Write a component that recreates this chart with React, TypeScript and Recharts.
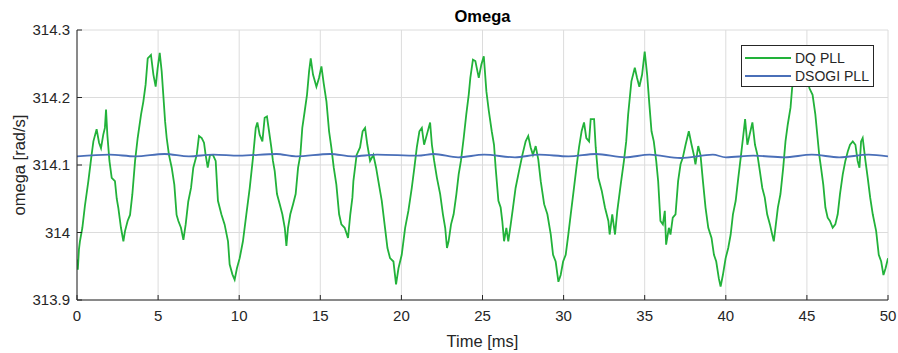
import { LineChart, Line, XAxis, YAxis, CartesianGrid, Legend, Customized } from 'recharts';

const FONT = '"Liberation Sans", Arial, Helvetica, sans-serif';
const TEXT = '#262626';

const xTicks = [0, 5, 10, 15, 20, 25, 30, 35, 40, 45, 50];
const yTicks = [313.9, 314.0, 314.1, 314.2, 314.3];

// DQ PLL omega (time in ms)
const dqTime = [
    0, 0.05, 0.12, 0.18, 0.33, 0.49, 0.7, 0.9, 1.01, 1.21, 1.36, 1.48, 1.62, 1.72, 1.79, 1.87, 2.0, 2.14, 2.34, 2.45,
    2.55, 2.71, 2.86, 2.96, 3.12, 3.27, 3.41, 3.58, 3.74, 3.95, 4.09, 4.23, 4.36, 4.56, 4.71, 4.85, 4.97, 5.1, 5.22,
    5.32, 5.43, 5.53, 5.67, 5.84, 6.0, 6.14, 6.25, 6.41, 6.56, 6.7, 6.86, 7.03, 7.17, 7.38, 7.52, 7.69, 7.83, 7.93,
    8.06, 8.2, 8.38, 8.55, 8.69, 8.9, 9.1, 9.31, 9.41, 9.58, 9.72, 9.86, 10.03, 10.23, 10.44, 10.65, 10.85, 11.02,
    11.12, 11.26, 11.43, 11.57, 11.71, 11.84, 11.98, 12.08, 12.19, 12.33, 12.5, 12.66, 12.81, 12.91, 13.01, 13.15,
    13.32, 13.48, 13.63, 13.77, 13.89, 14.04, 14.18, 14.31, 14.41, 14.55, 14.76, 14.92, 15.07, 15.21, 15.38, 15.54,
    15.68, 15.83, 15.99, 16.16, 16.3, 16.5, 16.71, 16.85, 16.98, 17.04, 17.24, 17.45, 17.61, 17.76, 17.9, 18.07,
    18.27, 18.44, 18.58, 18.79, 18.99, 19.14, 19.3, 19.51, 19.67, 19.82, 20.02, 20.23, 20.43, 20.64, 20.8, 20.95,
    21.11, 21.26, 21.4, 21.57, 21.77, 21.88, 22.02, 22.19, 22.39, 22.56, 22.7, 22.81, 22.91, 23.06, 23.22, 23.39,
    23.53, 23.67, 23.84, 24.0, 24.15, 24.25, 24.41, 24.56, 24.77, 24.93, 25.08, 25.24, 25.39, 25.57, 25.71, 25.81,
    25.98, 26.12, 26.22, 26.33, 26.47, 26.59, 26.74, 26.88, 27.04, 27.25, 27.46, 27.66, 27.82, 27.97, 28.11, 28.28,
    28.44, 28.59, 28.8, 29.0, 29.21, 29.35, 29.51, 29.68, 29.82, 29.97, 30.13, 30.29, 30.44, 30.64, 30.79, 30.95,
    31.11, 31.26, 31.4, 31.57, 31.67, 31.88, 31.98, 32.14, 32.35, 32.55, 32.76, 32.84, 33.0, 33.17, 33.31, 33.52,
    33.72, 33.86, 33.98, 34.18, 34.39, 34.53, 34.67, 34.84, 35.0, 35.15, 35.29, 35.42, 35.56, 35.71, 35.83, 35.97,
    36.12, 36.24, 36.32, 36.49, 36.59, 36.73, 36.9, 37.06, 37.21, 37.35, 37.52, 37.72, 37.89, 38.03, 38.13, 38.3,
    38.44, 38.59, 38.75, 38.92, 39.12, 39.27, 39.41, 39.57, 39.68, 39.82, 39.99, 40.15, 40.3, 40.44, 40.61, 40.77,
    40.92, 41.06, 41.19, 41.33, 41.47, 41.64, 41.8, 41.95, 42.1, 42.25, 42.4, 42.55, 42.72, 42.86, 42.96, 43.06,
    43.21, 43.37, 43.54, 43.68, 43.82, 43.99, 44.09, 44.25, 44.45, 44.65, 44.85, 45.0, 45.15, 45.35, 45.52, 45.66,
    45.76, 45.87, 46.01, 46.14, 46.28, 46.42, 46.59, 46.75, 46.9, 47.04, 47.21, 47.37, 47.52, 47.66, 47.83, 47.99,
    48.13, 48.24, 48.34, 48.44, 48.61, 48.75, 48.9, 49.06, 49.27, 49.43, 49.58, 49.72, 49.85, 50.0,
];
const dqOmega = [
    313.96, 313.945, 313.975, 313.987, 314.007, 314.04, 314.076, 314.115, 314.135, 314.153, 314.133, 314.125, 314.145,
    314.155, 314.182, 314.145, 314.106, 314.081, 314.076, 314.05, 314.036, 314.007, 313.987, 314.002, 314.017, 314.026,
    314.056, 314.106, 314.14, 314.175, 314.194, 314.219, 314.258, 314.263, 314.234, 314.216, 314.243, 314.266, 314.239,
    314.204, 314.165, 314.14, 314.115, 314.096, 314.071, 314.026, 314.017, 314.007, 313.989, 314.012, 314.046, 314.066,
    314.096, 314.115, 314.143, 314.14, 314.133, 314.115, 314.096, 314.115, 314.115, 314.106, 314.047, 314.027, 314.012,
    313.987, 313.953, 313.938, 313.93, 313.947, 313.962, 313.987, 314.027, 314.066, 314.111, 314.155, 314.163, 314.145,
    314.135, 314.17, 314.172, 314.15, 314.126, 314.106, 314.091, 314.057, 314.042, 314.027, 314.007, 313.98, 314.007,
    314.027, 314.042, 314.057, 314.096, 314.115, 314.155, 314.18, 314.204, 314.239, 314.258, 314.234, 314.216, 314.229,
    314.246, 314.221, 314.194, 314.15, 314.126, 314.096, 314.071, 314.027, 314.012, 314.007, 313.992, 314.027, 314.052,
    314.076, 314.115, 314.126, 314.15, 314.155, 314.13, 314.106, 314.115, 314.096, 314.076, 314.047, 314.007, 313.977,
    313.962, 313.957, 313.923, 313.947, 313.967, 314.007, 314.032, 314.066, 314.096, 314.126, 314.15, 314.155, 314.13,
    314.145, 314.163, 314.13, 314.106, 314.081, 314.057, 314.027, 314.007, 313.977, 313.987, 314.012, 314.027, 314.057,
    314.086, 314.106, 314.14, 314.175, 314.204, 314.229, 314.256, 314.254, 314.229, 314.249, 314.261, 314.209, 314.18,
    314.15, 314.13, 314.096, 314.047, 314.037, 314.017, 313.987, 314.007, 313.987, 314.012, 314.037, 314.066, 314.091,
    314.115, 314.135, 314.143, 314.126, 314.115, 314.128, 314.108, 314.076, 314.042, 314.027, 313.997, 313.967, 313.957,
    313.927, 313.937, 313.957, 313.967, 313.997, 314.027, 314.066, 314.096, 314.126, 314.15, 314.163, 314.14, 314.135,
    314.168, 314.168, 314.126, 314.081, 314.062, 314.037, 314.017, 313.997, 314.027, 313.997, 314.032, 314.071, 314.106,
    314.135, 314.175, 314.224, 314.244, 314.229, 314.216, 314.234, 314.268, 314.234, 314.189, 314.15, 314.135, 314.106,
    314.076, 314.017, 314.012, 314.032, 313.982, 314.007, 313.997, 314.022, 314.027, 314.076, 314.101, 314.111, 314.13,
    314.15, 314.13, 314.115, 314.101, 314.128, 314.115, 314.076, 314.037, 314.007, 313.992, 313.967, 313.957, 313.932,
    313.92, 313.937, 313.962, 313.977, 313.997, 314.027, 314.047, 314.081, 314.111, 314.14, 314.168, 314.13, 314.145,
    314.163, 314.13, 314.115, 314.091, 314.066, 314.052, 314.027, 314.012, 313.997, 313.987, 314.007, 314.037, 314.057,
    314.096, 314.135, 314.16, 314.185, 314.214, 314.24, 314.255, 314.235, 314.25, 314.24, 314.214, 314.204, 314.175,
    314.14, 314.115, 314.096, 314.071, 314.037, 314.022, 314.017, 314.007, 314.012, 314.027, 314.057, 314.086, 314.106,
    314.12, 314.13, 314.135, 314.13, 314.106, 314.096, 314.135, 314.14, 314.106, 314.081, 314.052, 314.027, 314.002,
    313.967, 313.957, 313.937, 313.947, 313.962,
];

// DSOGI PLL omega, almost flat
const dsogiTime = [
    0, 2.0, 3.6, 5.4, 6.9, 8.4, 10.0, 12.3, 13.5, 15.6, 17.0, 18.5, 21.0, 22.0, 23.5, 25.1, 27.0, 28.5, 30.3, 32.0,
    33.8, 35.3, 37.2, 39.2, 40.0, 41.7, 43.6, 45.3, 47.0, 48.8, 50,
];
const dsogiOmega = [
    314.1128, 314.1153, 314.1128, 314.1163, 314.1128, 314.1153, 314.1138, 314.1163, 314.1128, 314.1163, 314.1128,
    314.1153, 314.1138, 314.1163, 314.1114, 314.1153, 314.1114, 314.1153, 314.1128, 314.1163, 314.1114, 314.1153,
    314.1104, 314.1153, 314.1114, 314.1138, 314.1114, 314.1153, 314.1114, 314.1153, 314.1128,
];

const dqData = dqTime.map((t, i) => ({ t, omega: dqOmega[i] }));
const dsogiData = dsogiTime.map((t, i) => ({ t, omega: dsogiOmega[i] }));

const XTick = (props: any) => {
    const { x, y, payload } = props;
    const axisY = y - 10;
    return (
        <g>
            <line x1={x} y1={axisY} x2={x} y2={axisY - 5} stroke={TEXT} strokeWidth={1} />
            <text x={x} y={y} dy="0.71em" textAnchor="middle" fill={TEXT} fontSize={15} fontFamily={FONT}>
                {payload.value}
            </text>
        </g>
    );
};

const YTick = (props: any) => {
    const { x, y, payload } = props;
    const axisX = x + 7;
    return (
        <g>
            <line x1={axisX} y1={y} x2={axisX + 5} y2={y} stroke={TEXT} strokeWidth={1} />
            <text x={x} y={y} dy="0.355em" textAnchor="end" fill={TEXT} fontSize={15} fontFamily={FONT}>
                {String(Number(payload.value.toFixed(1)))}
            </text>
        </g>
    );
};

const renderLegend = (props: any) => {
    const { payload } = props;
    return (
        <div
            style={{
                boxSizing: 'border-box',
                width: 133,
                height: 42,
                border: `1px solid ${TEXT}`,
                background: '#fff',
                paddingTop: 3,
            }}
        >
            {(payload || []).map((entry: any) => (
                <div key={entry.value} style={{ display: 'flex', alignItems: 'center', height: 18 }}>
                    <svg width={53} height={18}>
                        <line x1={3} y1={9} x2={49} y2={9} stroke={entry.color} strokeWidth={2} />
                    </svg>
                    <span style={{ fontFamily: FONT, fontSize: 14, color: TEXT, whiteSpace: 'nowrap' }}>
                        {entry.value}
                    </span>
                </div>
            ))}
        </div>
    );
};

const Labels = () => (
    <g fontFamily={FONT} fill={TEXT}>
        <text x={482.5} y={22} textAnchor="middle" fontSize={16.5} fontWeight="bold" fill="#000">
            Omega
        </text>
        <text x={482.5} y={347} textAnchor="middle" fontSize={16.5}>
            Time [ms]
        </text>
        <text x={25} y={165} textAnchor="middle" fontSize={16.5} transform="rotate(-90 25 165)">
            omega [rad/s]
        </text>
    </g>
);

export default function App() {
    return (
        <div style={{ position: 'absolute', left: 0, top: 0, width: 898, height: 353, background: '#fff' }}>
            <style>{'body{margin:0}'}</style>
            <LineChart width={898} height={353} margin={{ top: 30, right: 10, bottom: 23, left: 17 }}>
                <CartesianGrid stroke="#dcdcdc" strokeWidth={1} />
                <XAxis
                    dataKey="t"
                    type="number"
                    domain={[0, 50]}
                    ticks={xTicks}
                    allowDataOverflow
                    height={30}
                    stroke={TEXT}
                    tickLine={false}
                    tickSize={0}
                    tickMargin={10}
                    tick={<XTick />}
                    interval={0}
                />
                <YAxis
                    type="number"
                    domain={[313.9, 314.3]}
                    ticks={yTicks}
                    allowDataOverflow
                    width={60}
                    stroke={TEXT}
                    tickLine={false}
                    tickSize={0}
                    tickMargin={7}
                    tick={<YTick />}
                    interval={0}
                />
                <Legend
                    layout="vertical"
                    align="center"
                    verticalAlign="middle"
                    content={renderLegend}
                    wrapperStyle={{ left: 741, top: 45, width: 133, height: 42 }}
                />
                <Line
                    data={dqData}
                    dataKey="omega"
                    name="DQ PLL"
                    type="linear"
                    stroke="#22b23a"
                    strokeWidth={1.8}
                    dot={false}
                    isAnimationActive={false}
                />
                <Line
                    data={dsogiData}
                    dataKey="omega"
                    name="DSOGI PLL"
                    type="monotone"
                    stroke="#4a6fb8"
                    strokeWidth={1.8}
                    dot={false}
                    isAnimationActive={false}
                />
                <Customized component={Labels} />
            </LineChart>
        </div>
    );
}
